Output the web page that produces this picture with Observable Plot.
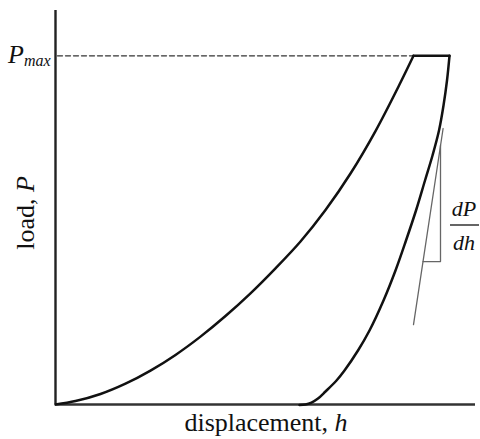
<!DOCTYPE html>
<html>
<head>
<meta charset="utf-8">
<script src="https://cdn.jsdelivr.net/npm/d3@7"></script>
<script src="https://cdn.jsdelivr.net/npm/@observablehq/plot@0.6"></script>
<style>
  html, body { margin: 0; padding: 0; background: #fff; }
  #chart svg { display: block; }
</style>
</head>
<body>
<div id="chart"></div>
<script>
// Loading curve (displacement h, load P) — P normalised so Pmax = 100
const loadH = [0, 5, 11.25, 17.5, 23.75, 30, 36.25, 42.5, 48.75, 55, 61.25, 67.5, 73.75, 80, 86.25, 89.5];
const loadP = [0, 0.98, 3.01, 5.97, 9.72, 14.22, 19.47, 25.38, 31.89, 39.06, 46.75, 55.78, 66.25, 78.43, 92.34, 100];
// Hold at maximum load
const holdH = [89.5, 98.5];
const holdP = [100, 100];
// Unloading curve
const unloadH = [98.5, 97.875, 97, 95.875, 94.25, 92.375, 90.125, 87.625, 85, 82, 78.5, 75.625, 72.25, 70.25, 67.5, 65.625, 64, 62.5, 61];
const unloadP = [100, 92.92, 85.75, 78.58, 71.41, 64.24, 55.64, 47.03, 38.43, 29.82, 21.22, 15.49, 9.75, 6.88, 3.73, 1.72, 0.57, 0, -0.14];
// Tangent (stiffness) line and slope triangle
const tangentH = [96.9, 89.5];
const tangentP = [79.15, 22.9];
const triH = [91.88, 96.25, 96.25];
const triP = [41.0, 41.0, 74.3];
// Pmax reference line
const pmaxH = [0.5, 89.5];
const pmaxP = [100, 100];
// Axis extents
const hMax = 105;
const pTop = 113;

const zip = (xs, ys) => xs.map((x, i) => ({h: x, P: ys[i]}));

const plot = Plot.plot({
  width: 480,
  height: 439,
  marginLeft: 55,
  marginRight: 5,
  marginTop: 10,
  marginBottom: 35,
  x: {domain: [0, hMax], axis: null},
  y: {domain: [0, pTop], axis: null},
  style: {background: "#fff", overflow: "visible"},
  marks: [
    Plot.line(zip(pmaxH, pmaxP), {x: "h", y: "P", stroke: "#333", strokeWidth: 1.3, strokeDasharray: "5,3"}),
    Plot.line(zip(tangentH, tangentP), {x: "h", y: "P", stroke: "#666", strokeWidth: 1.3}),
    Plot.line(zip(triH, triP), {x: "h", y: "P", stroke: "#666", strokeWidth: 1.3}),
    Plot.ruleX([0], {y1: 0, y2: pTop, stroke: "#222", strokeWidth: 2.4}),
    Plot.ruleY([0], {x1: 0, x2: hMax, stroke: "#333", strokeWidth: 2.4}),
    Plot.line(zip(loadH, loadP), {x: "h", y: "P", stroke: "#111", strokeWidth: 2.5, curve: "catmull-rom"}),
    Plot.line(zip(holdH, holdP), {x: "h", y: "P", stroke: "#111", strokeWidth: 2.5}),
    Plot.line(zip(unloadH, unloadP), {x: "h", y: "P", stroke: "#111", strokeWidth: 2.5, curve: "catmull-rom", strokeLinejoin: "round"})
  ]
});

document.getElementById("chart").appendChild(plot);

// Labels
const svg = d3.select(plot);
const font = "'Liberation Serif', 'Times New Roman', serif";

// x-axis label
const xl = svg.append("text")
  .attr("x", 266).attr("y", 431)
  .attr("text-anchor", "middle")
  .attr("font-family", font).attr("font-size", 26).attr("fill", "#111");
xl.append("tspan").text("displacement, ");
xl.append("tspan").attr("font-style", "italic").text("h");

// y-axis label
const yl = svg.append("text")
  .attr("transform", "translate(34,213) rotate(-90)")
  .attr("text-anchor", "middle")
  .attr("font-family", font).attr("font-size", 26).attr("fill", "#111");
yl.append("tspan").text("load, ");
yl.append("tspan").attr("font-style", "italic").text("P");

// Pmax label
const pl = svg.append("text")
  .attr("x", 8).attr("y", 63)
  .attr("text-anchor", "start")
  .attr("font-family", font).attr("font-size", 26).attr("font-style", "italic").attr("fill", "#111");
pl.append("tspan").text("P");
pl.append("tspan").attr("font-size", 16).attr("dy", 3).text("max");

// dP/dh fraction
svg.append("text")
  .attr("x", 464).attr("y", 216)
  .attr("text-anchor", "middle")
  .attr("font-family", font).attr("font-size", 22).attr("font-style", "italic").attr("fill", "#111")
  .text("dP");
svg.append("line")
  .attr("x1", 450).attr("x2", 479).attr("y1", 225).attr("y2", 225)
  .attr("stroke", "#111").attr("stroke-width", 1.3);
svg.append("text")
  .attr("x", 464).attr("y", 250)
  .attr("text-anchor", "middle")
  .attr("font-family", font).attr("font-size", 22).attr("font-style", "italic").attr("fill", "#111")
  .text("dh");
</script>
</body>
</html>
